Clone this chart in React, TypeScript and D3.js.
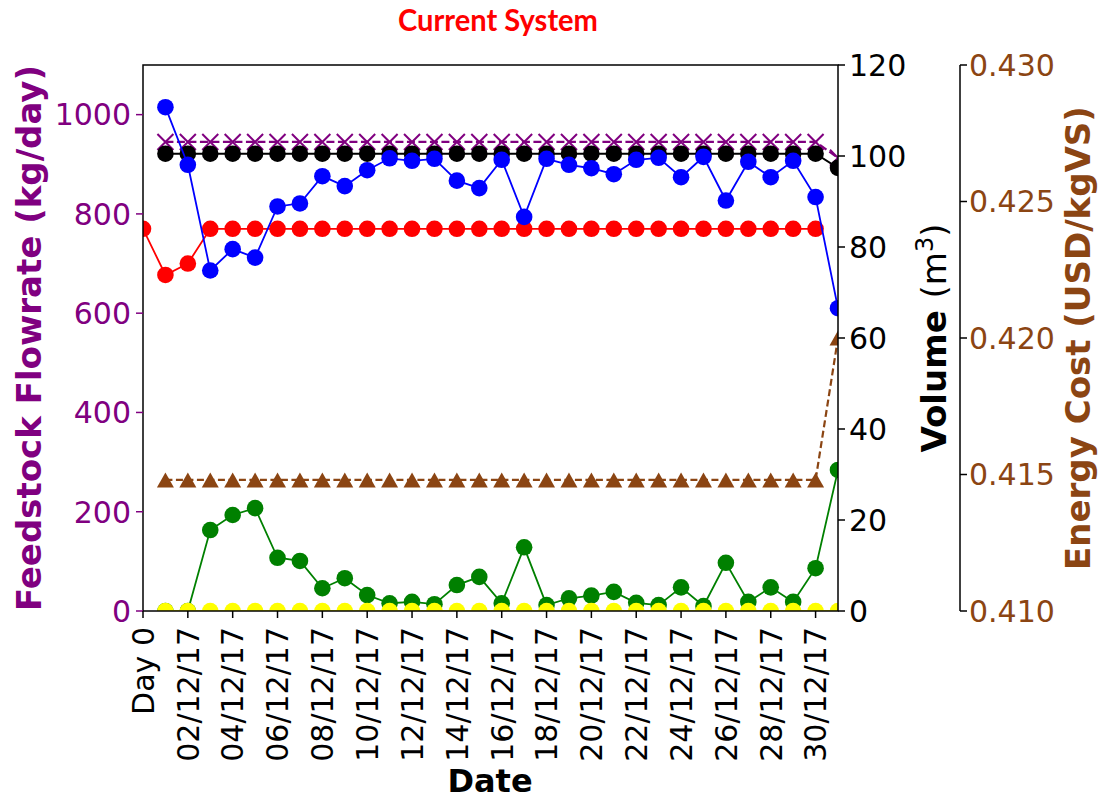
import React, { useEffect, useRef } from 'react';
import * as d3 from 'd3';

// day categories (index 0 = "Day 0", then 1..31 December 2017)
const dates = [
  'Day 0', '01/12/17', '02/12/17', '03/12/17', '04/12/17', '05/12/17', '06/12/17', '07/12/17',
  '08/12/17', '09/12/17', '10/12/17', '11/12/17', '12/12/17', '13/12/17', '14/12/17', '15/12/17',
  '16/12/17', '17/12/17', '18/12/17', '19/12/17', '20/12/17', '21/12/17', '22/12/17', '23/12/17',
  '24/12/17', '25/12/17', '26/12/17', '27/12/17', '28/12/17', '29/12/17', '30/12/17', '31/12/17',
];
const xTickDays = [0, 2, 4, 6, 8, 10, 12, 14, 16, 18, 20, 22, 24, 26, 28, 30];

// left axis, kg/day
const flowTarget = [null,
  945, 945, 945, 945, 945, 945, 945, 945, 945, 945, 945, 945, 945, 945, 945,
  945, 945, 945, 945, 945, 945, 945, 945, 945, 945, 945, 945, 945, 945, 945, 913];
const flowRed = [770, 677, 700,
  770, 770, 770, 770, 770, 770, 770, 770, 770, 770, 770, 770, 770,
  770, 770, 770, 770, 770, 770, 770, 770, 770, 770, 770, 770, 770, 770, 770];
const flowBlue = [null,
  1015, 899, 686, 729, 712, 815, 821, 876, 856, 888, 912, 907, 911, 867, 852,
  909, 794, 911, 899, 892, 880, 909, 913, 874, 915, 827, 905, 874, 907, 834, 610];

// right axis, m3
const volBlack = [null,
  100.5, 100.5, 100.5, 100.5, 100.5, 100.5, 100.5, 100.5, 100.5, 100.5, 100.5, 100.5, 100.5, 100.5, 100.5,
  100.5, 100.5, 100.5, 100.5, 100.5, 100.5, 100.5, 100.5, 100.5, 100.5, 100.5, 100.5, 100.5, 100.5, 100.5, 97.4];
const volGreen = [null,
  0, 0, 17.8, 21.1, 22.6, 11.7, 11.0, 5.0, 7.2, 3.5, 1.7, 2.0, 1.5, 5.7, 7.5,
  1.7, 14.0, 1.3, 2.8, 3.4, 4.2, 1.8, 1.3, 5.2, 1.1, 10.6, 2.0, 5.2, 2.0, 9.4, 31.0];
const volYellow = [null,
  0, 0, 0, 0, 0, 0, 0, 0, 0, 0, 0, 0, 0, 0, 0,
  0, 0, 0, 0, 0, 0, 0, 0, 0, 0, 0, 0, 0, 0, 0, 0];

// outer right axis, USD/kgVS
const energyCost = [null,
  0.4148, 0.4148, 0.4148, 0.4148, 0.4148, 0.4148, 0.4148, 0.4148, 0.4148, 0.4148,
  0.4148, 0.4148, 0.4148, 0.4148, 0.4148, 0.4148, 0.4148, 0.4148, 0.4148, 0.4148,
  0.4148, 0.4148, 0.4148, 0.4148, 0.4148, 0.4148, 0.4148, 0.4148, 0.4148, 0.4148, 0.4200];

const flowTicks = [0, 200, 400, 600, 800, 1000];
const volTicks = [0, 20, 40, 60, 80, 100, 120];
const costTicks = [0.41, 0.415, 0.42, 0.425, 0.43];

const PURPLE = '#800080';
const BROWN = '#8b4513';
const FONT = '"DejaVu Sans", sans-serif';

export default function App() {
  const ref = useRef<SVGSVGElement | null>(null);

  useEffect(() => {
    const svg = d3.select(ref.current);
    svg.selectAll('*').remove();

    const width = 1102, height = 800;
    const margin = { top: 65, right: 264, bottom: 189, left: 143 };
    const x0 = margin.left, x1 = width - margin.right;
    const y0 = height - margin.bottom, y1 = margin.top;

    const x = d3.scaleLinear().domain([0, 31]).range([x0, x1]);
    const yFlow = d3.scaleLinear().domain([0, 1100]).range([y0, y1]);
    const yVol = d3.scaleLinear().domain([0, 120]).range([y0, y1]);
    const yCost = d3.scaleLinear().domain([0.41, 0.43]).range([y0, y1]);

    svg.append('defs').append('clipPath').attr('id', 'plotclip')
      .append('rect').attr('x', x0).attr('y', y1).attr('width', x1 - x0).attr('height', y0 - y1);

    const plot = svg.append('g').attr('clip-path', 'url(#plotclip)');

    const drawSeries = (vals: (number | null)[], y: any, color: string, marker: string, lw: number, dash?: string) => {
      const pts = vals.map((v, i) => ({ i, v })).filter(d => d.v != null) as { i: number; v: number }[];
      const line = d3.line<{ i: number; v: number }>().x(d => x(d.i)).y(d => y(d.v));
      plot.append('path').attr('d', line(pts)).attr('fill', 'none')
        .attr('stroke', color).attr('stroke-width', lw)
        .attr('stroke-dasharray', dash || null);
      const g = plot.append('g');
      pts.forEach(d => {
        const cx = x(d.i), cy = y(d.v);
        if (marker === 'o') {
          g.append('circle').attr('cx', cx).attr('cy', cy).attr('r', 8.3).attr('fill', color);
        } else if (marker === 'x') {
          const s = 8;
          g.append('path').attr('d', `M${cx - s},${cy - s}L${cx + s},${cy + s}M${cx - s},${cy + s}L${cx + s},${cy - s}`)
            .attr('stroke', color).attr('stroke-width', 2);
        } else if (marker === '^') {
          g.append('path').attr('d', `M${cx},${cy - 7.5}L${cx - 8.5},${cy + 7.5}L${cx + 8.5},${cy + 7.5}Z`)
            .attr('fill', color);
        }
      });
    };

    drawSeries(flowTarget, yFlow, PURPLE, 'x', 2.2, '8,3.5');
    drawSeries(flowRed, yFlow, '#ff0000', 'o', 1.8);
    drawSeries(volBlack, yVol, '#000000', 'o', 2);
    drawSeries(flowBlue, yFlow, '#0000ff', 'o', 1.8);
    drawSeries(volGreen, yVol, '#008000', 'o', 1.8);
    drawSeries(volYellow, yVol, '#ffff00', 'o', 1.8);
    drawSeries(energyCost, yCost, BROWN, '^', 2.2, '7,3.5');

    // frame
    svg.append('rect').attr('x', x0).attr('y', y1).attr('width', x1 - x0).attr('height', y0 - y1)
      .attr('fill', 'none').attr('stroke', '#000').attr('stroke-width', 1.5);

    // left axis
    const left = svg.append('g');
    flowTicks.forEach(t => {
      left.append('line').attr('x1', x0 - 7).attr('x2', x0).attr('y1', yFlow(t)).attr('y2', yFlow(t))
        .attr('stroke', PURPLE).attr('stroke-width', 1.5);
      left.append('text').attr('x', x0 - 12).attr('y', yFlow(t)).attr('dy', '0.36em')
        .attr('text-anchor', 'end').attr('fill', PURPLE).style('font', `30px ${FONT}`).text(t);
    });

    // volume axis
    const right = svg.append('g');
    volTicks.forEach(t => {
      right.append('line').attr('x1', x1).attr('x2', x1 + 7).attr('y1', yVol(t)).attr('y2', yVol(t))
        .attr('stroke', '#000').attr('stroke-width', 1.5);
      right.append('text').attr('x', x1 + 11).attr('y', yVol(t)).attr('dy', '0.36em')
        .attr('fill', '#000').style('font', `30px ${FONT}`).text(t);
    });

    // energy cost axis
    const costX = 960;
    const cost = svg.append('g');
    cost.append('line').attr('x1', costX).attr('x2', costX).attr('y1', y1).attr('y2', y0)
      .attr('stroke', '#000').attr('stroke-width', 1.5);
    costTicks.forEach(t => {
      cost.append('line').attr('x1', costX).attr('x2', costX + 7).attr('y1', yCost(t)).attr('y2', yCost(t))
        .attr('stroke', '#000').attr('stroke-width', 1.5);
      cost.append('text').attr('x', costX + 9).attr('y', yCost(t)).attr('dy', '0.36em')
        .attr('fill', BROWN).style('font', `30px ${FONT}`).text(d3.format('.3f')(t));
    });

    // x axis
    const bottom = svg.append('g');
    xTickDays.forEach(t => {
      bottom.append('line').attr('x1', x(t)).attr('x2', x(t)).attr('y1', y0).attr('y2', y0 + 7)
        .attr('stroke', '#000').attr('stroke-width', 1.5);
      bottom.append('text').attr('transform', `translate(${x(t)},${y0 + 16}) rotate(-90)`)
        .attr('dy', '0.36em').attr('text-anchor', 'end').attr('fill', '#000')
        .style('font', `30px ${FONT}`).text(dates[t]);
    });

    // axis titles
    svg.append('text').attr('transform', `translate(41,${(y0 + y1) / 2}) rotate(-90)`)
      .attr('text-anchor', 'middle').attr('fill', PURPLE)
      .style('font', `bold 34px ${FONT}`).text('Feedstock Flowrate (kg/day)');

    const vol = svg.append('text').attr('transform', `translate(946,${(y0 + y1) / 2}) rotate(-90)`)
      .attr('text-anchor', 'middle').attr('fill', '#000').style('font', `bold 34px ${FONT}`);
    vol.append('tspan').text('Volume ');
    vol.append('tspan').style('font-weight', 'normal').text('(m');
    vol.append('tspan').style('font-weight', 'normal').style('font-size', '24px').attr('dy', -13).text('3');
    vol.append('tspan').style('font-weight', 'normal').attr('dy', 13).text(')');

    svg.append('text').attr('transform', `translate(1090,${(y0 + y1) / 2}) rotate(-90)`)
      .attr('text-anchor', 'middle').attr('fill', BROWN)
      .style('font', `bold 34px ${FONT}`).text('Energy Cost (USD/kgVS)');

    svg.append('text').attr('x', 490).attr('y', 792).attr('text-anchor', 'middle').attr('fill', '#000')
      .style('font', `bold 32px ${FONT}`).text('Date');

    svg.append('text').attr('x', 498).attr('y', 31).attr('text-anchor', 'middle').attr('fill', '#ff0000')
      .attr('textLength', 200).attr('lengthAdjust', 'spacingAndGlyphs')
      .style('font', '700 30px Lato, "Open Sans", sans-serif').text('Current System');
  }, []);

  return (
    <div style={{ width: 1102, height: 800 }}>
      <style>{'body{margin:0;background:#fff}'}</style>
      <svg ref={ref} width={1102} height={800} style={{ display: 'block', background: '#fff' }} />
    </div>
  );
}
